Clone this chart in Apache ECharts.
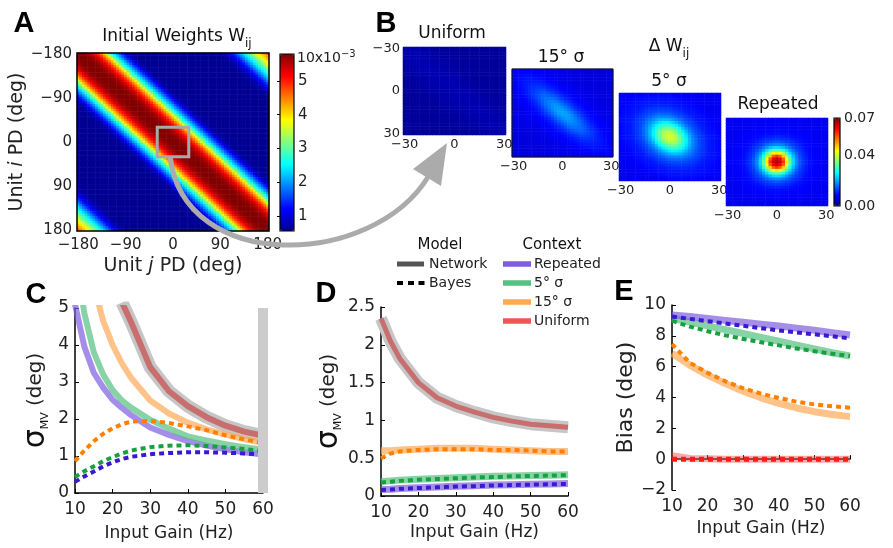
<!DOCTYPE html>
<html><head><meta charset="utf-8">
<script src="https://cdn.jsdelivr.net/npm/echarts@6/dist/echarts.min.js"></script>
<style>html,body{margin:0;padding:0;background:#fff}#c{width:893px;height:548px}</style>
</head><body><div id="c"></div>
<script>
// ================= DATA =================
// Panel A: initial weights (x10^-3) as a function of |PD_i - PD_j| (deg), read from the colours
const pdTicksA = [-180, -90, 0, 90, 180];
const pdStepA = 5;
const weightOffsets = [0, 10, 20, 30, 40, 50, 60, 70, 80, 90, 100, 120, 180, 240, 265, 280, 295, 310, 325, 340, 360];
const weightValues  = [5.8, 5.78, 5.65, 5.35, 4.85, 4.15, 3.1, 2.3, 1.65, 1.05, 0.65, 0.57, 0.56, 0.56, 0.58, 0.75, 1.3, 2.1, 2.9, 3.7, 4.6];
const colorbarTicksA = [1, 2, 3, 4, 5];
const colorbarRangeA = [0.55, 5.8];
const zoomBoxA = [-30, 30];

// Panel B: delta W_ij, radial profiles (value vs scaled distance from centre, deg)
const dwTicksB = [-30, 0, 30];
const dwStepB = 2;
const dwRadii     = [0, 2, 4, 6, 8, 10, 12, 15, 20, 30, 50];
const dwUniform   = [0.0026, 0.0026, 0.0025, 0.0023, 0.0020, 0.0017, 0.0014, 0.0012, 0.0010, 0.0009, 0.0009];
const dw15        = [0.020, 0.0195, 0.018, 0.016, 0.014, 0.012, 0.0105, 0.0090, 0.0076, 0.0064, 0.0058];
const dw5         = [0.041, 0.040, 0.037, 0.032, 0.027, 0.022, 0.018, 0.014, 0.0105, 0.008, 0.0072];
const dwRepeated  = [0.067, 0.065, 0.058, 0.045, 0.033, 0.024, 0.018, 0.013, 0.0095, 0.0078, 0.0072];
// stretch along / across the diagonal
const dwShapeUniform = [0, 1], dwShape15 = [0.4, 1.25], dwShape5 = [0.75, 1.0], dwShapeRepeated = [1, 1];
const colorbarTicksB = [0, 0.04, 0.07];

// Panel C
const gainC = [10, 12.5, 15, 17.5, 20, 22.5, 25, 30, 35, 40, 45, 50, 55, 60];
const netRepeatedC = [5.1, 3.95, 3.25, 2.85, 2.52, 2.3, 2.1, 1.77, 1.57, 1.4, 1.28, 1.18, 1.1, 1.04];
const net5C        = [6.5, 4.85, 3.8, 3.2, 2.78, 2.5, 2.3, 1.98, 1.74, 1.53, 1.42, 1.32, 1.24, 1.17];
const net15C       = [null, null, 5.6, 4.65, 4.0, 3.5, 3.1, 2.5, 2.15, 1.9, 1.72, 1.58, 1.46, 1.35];
const netUniformC  = [null, null, null, null, null, 5.15, 4.6, 3.4, 2.75, 2.35, 2.05, 1.82, 1.66, 1.55];
const bayesRepeatedC = [0.3, 0.45, 0.58, 0.72, 0.83, 0.92, 0.98, 1.05, 1.08, 1.1, 1.1, 1.09, 1.07, 1.04];
const bayes5C        = [0.43, 0.59, 0.72, 0.86, 0.97, 1.07, 1.15, 1.24, 1.28, 1.29, 1.27, 1.23, 1.19, 1.13];
const bayes15C       = [0.86, 1.15, 1.4, 1.6, 1.75, 1.86, 1.93, 1.95, 1.89, 1.8, 1.7, 1.56, 1.45, 1.35];
const highlightGainC = 60;

// Panel D
const gainD = [10, 12.5, 15, 20, 25, 30, 35, 40, 45, 50, 55, 60];
const netUniformD  = [2.35, 2.05, 1.82, 1.5, 1.3, 1.19, 1.11, 1.04, 0.99, 0.95, 0.93, 0.91];
const net15D       = [0.6, 0.6, 0.61, 0.62, 0.63, 0.63, 0.63, 0.62, 0.61, 0.6, 0.59, 0.59];
const net5D        = [0.19, 0.2, 0.21, 0.22, 0.23, 0.24, 0.25, 0.26, 0.265, 0.27, 0.275, 0.28];
const netRepeatedD = [0.085, 0.09, 0.1, 0.11, 0.12, 0.13, 0.135, 0.145, 0.15, 0.155, 0.16, 0.165];
const bayes15D       = [0.5, 0.56, 0.59, 0.61, 0.62, 0.62, 0.62, 0.61, 0.61, 0.6, 0.59, 0.59];
const bayes5D        = [0.18, 0.19, 0.2, 0.215, 0.225, 0.235, 0.245, 0.25, 0.26, 0.265, 0.27, 0.275];
const bayesRepeatedD = [0.08, 0.085, 0.095, 0.105, 0.115, 0.125, 0.13, 0.14, 0.145, 0.15, 0.155, 0.16];

// Panel E
const gainE = [10, 15, 20, 25, 30, 35, 40, 45, 50, 55, 60];
const netRepeatedE   = [9.35, 9.25, 9.13, 9.0, 8.88, 8.76, 8.64, 8.5, 8.36, 8.2, 8.05];
const bayesRepeatedE = [9.25, 9.1, 8.95, 8.8, 8.65, 8.5, 8.35, 8.22, 8.1, 7.97, 7.84];
const net5E          = [9.14, 8.9, 8.65, 8.4, 8.15, 7.9, 7.65, 7.4, 7.15, 6.9, 6.69];
const bayes5E        = [8.98, 8.6, 8.3, 8.03, 7.8, 7.58, 7.38, 7.18, 7.0, 6.84, 6.69];
const net15E         = [6.86, 6.1, 5.45, 4.9, 4.4, 3.98, 3.62, 3.32, 3.08, 2.9, 2.76];
const bayes15E       = [7.47, 6.25, 5.6, 5.05, 4.6, 4.25, 3.97, 3.73, 3.55, 3.43, 3.34];
const netUniformE    = [0.22, 0.05, 0.02, 0, 0, 0, 0, 0, 0, 0, 0];
const bayesUniformE  = [0, 0, 0, 0, 0, 0, 0, 0, 0, 0, 0];

const legendModel = ['Network', 'Bayes'];
const legendContext = ['Repeated', '5° σ', '15° σ', 'Uniform'];

// ================= HELPERS =================
const FF = 'DejaVu Sans, Verdana, sans-serif';
const jet = ['#00008f', '#0000ff', '#0080ff', '#00ffff', '#80ff80', '#ffff00', '#ff8000', '#ff0000', '#800000'];
const COL = {
  rep: '#7d5ee0', s5: '#55c080', s15: '#ffa855', uni: '#f25555',
  repD: '#3a1ad0', s5D: '#16a040', s15D: '#ff8000', uniD: '#ff1a1a'
};
const minus = v => String(v).replace('-', '\u2212');

function lookup(xs, ys, x) {
  if (x <= xs[0]) return ys[0];
  for (let k = 1; k < xs.length; k++) {
    if (x <= xs[k]) {
      const t = (x - xs[k - 1]) / (xs[k] - xs[k - 1]);
      return ys[k - 1] + t * (ys[k] - ys[k - 1]);
    }
  }
  return ys[ys.length - 1];
}
function range(a, b, step) { const r = []; for (let v = a; v <= b + 1e-9; v += step) r.push(v); return r; }

const pdA = range(pdTicksA[0], pdTicksA[pdTicksA.length - 1], pdStepA);
const cellsA = [];
pdA.forEach((pj, xj) => pdA.forEach((pi, yi) => {
  cellsA.push([xj, yi, lookup(weightOffsets, weightValues, Math.abs(pi - pj))]);
}));

const pdB = range(dwTicksB[0], dwTicksB[dwTicksB.length - 1], dwStepB);
function cellsB(profile, shape) {
  const out = [];
  pdB.forEach((x, xi) => pdB.forEach((y, yi) => {
    const along = (x + y) / Math.SQRT2, across = (x - y) / Math.SQRT2;
    const r = Math.hypot(along * shape[0], across * shape[1]);
    out.push([xi, yi, lookup(dwRadii, profile, r)]);
  }));
  return out;
}

const GRIDS = [
  {left: 77, top: 53, width: 192, height: 178, show: true, borderColor: '#000', borderWidth: 1.5, z: 10, backgroundColor: 'transparent'},
  {left: 403, top: 47, width: 103, height: 88},
  {left: 512, top: 69, width: 101, height: 88, show: true, borderColor: '#111', borderWidth: 1, z: 10, backgroundColor: 'transparent'},
  {left: 619, top: 93, width: 102, height: 88},
  {left: 726, top: 118, width: 102, height: 88},
  {left: 75, top: 308, width: 188, height: 185},
  {left: 381, top: 307, width: 187, height: 189},
  {left: 672, top: 305, width: 178, height: 185},
  {left: 280, top: 54, width: 14, height: 177, show: true, borderColor: '#000', borderWidth: 1.2, z: 10, backgroundColor: 'transparent'},
  {left: 834, top: 118, width: 6, height: 88, show: true, borderColor: '#000', borderWidth: 1.2, z: 10, backgroundColor: 'transparent'}
];

function catAxis(gi, data, ticks, showLabel, fontSize, inverse, extra) {
  return Object.assign({
    type: 'category', gridIndex: gi, data: data.map(String), inverse: !!inverse,
    axisLine: {show: false},
    axisTick: {show: false},
    splitLine: {show: false},
    axisLabel: {
      show: showLabel, interval: (i, v) => ticks.includes(+v), fontSize, color: '#222', fontFamily: FF,
      formatter: minus
    }
  }, extra || {});
}
function valAxis(gi, min, max, interval, extra) {
  return Object.assign({
    type: 'value', gridIndex: gi, min, max, interval,
    axisLine: {show: true, lineStyle: {color: '#000', width: 1.5}},
    axisTick: {show: true, inside: true, length: 4, lineStyle: {color: '#000'}},
    splitLine: {show: false},
    axisLabel: {fontSize: 17, color: '#222', fontFamily: FF, formatter: minus}
  }, extra || {});
}
const gainName = {name: 'Input Gain (Hz)', nameLocation: 'middle', nameTextStyle: {fontSize: 17, color: '#222', fontFamily: FF}};
const sigmaRich = {
  s: {fontSize: 30, fontFamily: FF, color: '#111'},
  m: {fontSize: 11, fontFamily: FF, color: '#111', verticalAlign: 'bottom', lineHeight: 30},
  d: {fontSize: 20, fontFamily: FF, color: '#222'}
};
const unitRich = {
  n: {fontSize: 19, fontFamily: FF, color: '#222'},
  i: {fontSize: 19, fontFamily: FF, color: '#222', fontStyle: 'italic'}
};
const bLabel = {fontSize: 13, color: '#222', fontFamily: FF, formatter: minus, margin: 3};

const xAxes = [
  catAxis(0, pdA, pdTicksA, true, 15, false, {
    axisTick: {show: true, inside: true, length: 4, alignWithLabel: true, interval: (i, v) => pdTicksA.includes(+v), lineStyle: {color: '#000'}},
    axisLabel: {interval: (i, v) => pdTicksA.includes(+v), fontSize: 15, color: '#222', fontFamily: FF, formatter: minus, margin: 7},
    name: '{n|Unit }{i|j}{n| PD (deg)}', nameLocation: 'middle', nameGap: 26, nameTextStyle: {rich: unitRich}
  }),
  catAxis(1, pdB, dwTicksB, true, 13, false, {axisLabel: Object.assign({interval: (i, v) => dwTicksB.includes(+v)}, bLabel)}),
  catAxis(2, pdB, dwTicksB, true, 13, false, {axisLabel: Object.assign({interval: (i, v) => dwTicksB.includes(+v)}, bLabel)}),
  catAxis(3, pdB, dwTicksB, true, 13, false, {axisLabel: Object.assign({interval: (i, v) => dwTicksB.includes(+v)}, bLabel)}),
  catAxis(4, pdB, dwTicksB, true, 13, false, {axisLabel: Object.assign({interval: (i, v) => dwTicksB.includes(+v)}, bLabel)}),
  valAxis(5, 10, 60, 10, Object.assign({nameGap: 32}, gainName, {axisLabel: {fontSize: 17, color: '#222', fontFamily: FF, margin: 8}})),
  valAxis(6, 10, 60, 10, Object.assign({nameGap: 28}, gainName, {axisLabel: {fontSize: 17, color: '#222', fontFamily: FF, margin: 8}})),
  valAxis(7, 10, 60, 10, Object.assign({nameGap: 30}, gainName, {axisLabel: {fontSize: 17, color: '#222', fontFamily: FF, margin: 8}})),
  {type: 'value', gridIndex: 8, show: false, min: 0, max: 1},
  {type: 'value', gridIndex: 9, show: false, min: 0, max: 1}
];
const yAxes = [
  catAxis(0, pdA, pdTicksA, true, 15, true, {
    axisTick: {show: true, inside: true, length: 4, alignWithLabel: true, interval: (i, v) => pdTicksA.includes(+v), lineStyle: {color: '#000'}},
    axisLabel: {interval: (i, v) => pdTicksA.includes(+v), fontSize: 15, color: '#222', fontFamily: FF, formatter: minus, margin: 5},
    name: '{n|Unit }{i|i}{n| PD (deg)}', nameLocation: 'middle', nameGap: 42, nameRotate: 90, nameTextStyle: {rich: unitRich}
  }),
  catAxis(1, pdB, dwTicksB, true, 13, true, {axisLabel: Object.assign({interval: (i, v) => dwTicksB.includes(+v)}, bLabel)}),
  catAxis(2, pdB, dwTicksB, false, 13, true),
  catAxis(3, pdB, dwTicksB, false, 13, true),
  catAxis(4, pdB, dwTicksB, false, 13, true),
  valAxis(5, 0, 5, 1, {name: '{s|σ}{m|MV}{d| (deg)}', nameLocation: 'middle', nameGap: 24, nameRotate: 90, nameTextStyle: {rich: sigmaRich}, axisLabel: {fontSize: 17, color: '#222', fontFamily: FF, margin: 6}}),
  valAxis(6, 0, 2.5, 0.5, {name: '{s|σ}{m|MV}{d| (deg)}', nameLocation: 'middle', nameGap: 36, nameRotate: 90, nameTextStyle: {rich: sigmaRich}, axisLabel: {fontSize: 17, color: '#222', fontFamily: FF, margin: 6}}),
  valAxis(7, -2, 10, 2, {name: 'Bias (deg)', nameLocation: 'middle', nameGap: 30, nameRotate: 90, nameTextStyle: {fontSize: 22, color: '#222', fontFamily: FF}, axisLabel: {fontSize: 17, color: '#222', fontFamily: FF, margin: 6, formatter: minus}}),
  {type: 'value', gridIndex: 8, position: 'right', min: colorbarRangeA[0], max: colorbarRangeA[1],
    axisLine: {show: false}, splitLine: {show: false},
    axisTick: {show: true, inside: true, length: 3, customValues: colorbarTicksA, lineStyle: {color: '#000'}},
    axisLabel: {customValues: colorbarTicksA, fontSize: 15, color: '#222', fontFamily: FF, margin: 4}},
  {type: 'value', gridIndex: 9, position: 'right', min: colorbarTicksB[0], max: colorbarTicksB[2],
    axisLine: {show: false}, splitLine: {show: false},
    axisTick: {show: false, customValues: colorbarTicksB},
    axisLabel: {customValues: colorbarTicksB, fontSize: 14, color: '#222', fontFamily: FF, margin: 4, formatter: v => v.toFixed(2)}}
];

function line(name, ai, xs, ys, color, width, dashed, opacity, z, extra) {
  return Object.assign({
    type: 'line', name, xAxisIndex: ai, yAxisIndex: ai,
    data: xs.map((x, k) => [x, ys[k]]),
    symbol: 'none', silent: true, z: z || 2,
    lineStyle: {color, width, type: dashed ? [5, 4] : 'solid', opacity: opacity == null ? 1 : opacity, cap: 'butt', join: 'round'},
    itemStyle: {color}
  }, extra || {});
}
const NET_OP = 0.7;

const series = [
  {type: 'heatmap', xAxisIndex: 0, yAxisIndex: 0, data: cellsA, progressive: 0, silent: true},
  {type: 'heatmap', xAxisIndex: 1, yAxisIndex: 1, data: cellsB(dwUniform, dwShapeUniform), progressive: 0, silent: true},
  {type: 'heatmap', xAxisIndex: 2, yAxisIndex: 2, data: cellsB(dw15, dwShape15), progressive: 0, silent: true},
  {type: 'heatmap', xAxisIndex: 3, yAxisIndex: 3, data: cellsB(dw5, dwShape5), progressive: 0, silent: true},
  {type: 'heatmap', xAxisIndex: 4, yAxisIndex: 4, data: cellsB(dwRepeated, dwShapeRepeated), progressive: 0, silent: true},

  // C
  line('Network', 5, gainC, netUniformC, '#c6c6c6', 13, false, 1, 1, {
    markLine: {silent: true, symbol: ['none', 'none'], label: {show: false},
      lineStyle: {color: '#cccccc', width: 10, type: 'solid', opacity: 1}, data: [{xAxis: highlightGainC}]}}),
  line('Repeated', 5, gainC, netRepeatedC, COL.rep, 6, false, NET_OP, 2),
  line('5° σ', 5, gainC, net5C, COL.s5, 6, false, NET_OP, 2),
  line('15° σ', 5, gainC, net15C, COL.s15, 6, false, NET_OP, 2),
  line('Uniform', 5, gainC, netUniformC, '#c86464', 6, false, 0.9, 3),
  line('Bayes', 5, gainC, bayes15C, COL.s15D, 4, true, 1, 4),
  line('Bayes', 5, gainC, bayes5C, COL.s5D, 4, true, 1, 4),
  line('Bayes', 5, gainC, bayesRepeatedC, COL.repD, 4, true, 1, 4),

  // D
  line('Network', 6, gainD, netUniformD, '#c6c6c6', 12, false, 1, 1),
  line('Uniform', 6, gainD, netUniformD, '#c86464', 5, false, 0.9, 3),
  line('15° σ', 6, gainD, net15D, COL.s15, 7, false, NET_OP, 2),
  line('5° σ', 6, gainD, net5D, COL.s5, 7, false, NET_OP, 2),
  line('Repeated', 6, gainD, netRepeatedD, COL.rep, 7, false, NET_OP, 2),
  line('Bayes', 6, gainD, bayes15D, COL.s15D, 4, true, 1, 4),
  line('Bayes', 6, gainD, bayes5D, COL.s5D, 4, true, 1, 4),
  line('Bayes', 6, gainD, bayesRepeatedD, COL.repD, 4, true, 1, 4),

  // E
  line('Uniform', 7, gainE, netUniformE, COL.uni, 7, false, 0.5, 2),
  line('15° σ', 7, gainE, net15E, COL.s15, 7, false, NET_OP, 2),
  line('5° σ', 7, gainE, net5E, COL.s5, 7, false, NET_OP, 2),
  line('Repeated', 7, gainE, netRepeatedE, COL.rep, 7, false, NET_OP, 2),
  line('Bayes', 7, gainE, bayesUniformE, COL.uniD, 5, true, 1, 4),
  line('Bayes', 7, gainE, bayes15E, COL.s15D, 4, true, 1, 4),
  line('Bayes', 7, gainE, bayes5E, COL.s5D, 4, true, 1, 4),
  line('Bayes', 7, gainE, bayesRepeatedE, COL.repD, 4, true, 1, 4)
];

// ---------- graphic: texts, legend, arrow ----------
function txt(text, x, y, size, opts) {
  opts = opts || {};
  return {
    type: 'text', x, y, z: 120, silent: true,
    style: Object.assign({
      text, fontSize: size, fontFamily: opts.family || FF, fontWeight: opts.weight || 'normal',
      fill: opts.fill || '#111',
      align: opts.align || 'center', textAlign: opts.align || 'center',
      verticalAlign: 'middle', textVerticalAlign: 'middle'
    }, opts.rich ? {rich: opts.rich} : {})
  };
}
const subRich = {
  a: {fontSize: 17, fontFamily: FF, fill: '#111', color: '#111', lineHeight: 26},
  b: {fontSize: 12, fontFamily: FF, fill: '#111', color: '#111', verticalAlign: 'bottom', lineHeight: 26}
};
const LET = {family: 'Liberation Sans, Arial, sans-serif', weight: 'bold', fill: '#000'};
const graphics = [
  txt('A', 24, 24, 29, LET), txt('B', 386, 24, 29, LET), txt('C', 36, 295, 29, LET),
  txt('D', 326, 294, 29, LET), txt('E', 624, 292, 29, LET),
  txt('{a|Initial Weights W}{b|ij}', 177, 37, 17, {rich: subRich}),
  txt('Uniform', 452, 34, 17), txt('15° σ', 561, 58, 17), txt('5° σ', 669, 82, 17), txt('Repeated', 778, 105, 17),
  txt('{a|Δ W}{b|ij}', 669, 47, 17, {rich: subRich}),
  txt('{a|10x10}{c|−3}', 297, 58, 14, {align: 'left', rich: {
    a: {fontSize: 14, fontFamily: FF, fill: '#222', lineHeight: 18},
    c: {fontSize: 10, fontFamily: FF, fill: '#222', verticalAlign: 'top', lineHeight: 18}}}),
  // legend
  txt('Model', 440, 245, 15), txt('Context', 552, 245, 15),
  {type: 'rect', z: 110, shape: {x: 397, y: 261.5, width: 27, height: 5}, style: {fill: '#555'}},
  {type: 'rect', z: 110, shape: {x: 397, y: 281, width: 6, height: 4}, style: {fill: '#000'}},
  {type: 'rect', z: 110, shape: {x: 408, y: 281, width: 6, height: 4}, style: {fill: '#000'}},
  {type: 'rect', z: 110, shape: {x: 418.5, y: 281, width: 6, height: 4}, style: {fill: '#000'}},
  txt(legendModel[0], 429, 264, 14, {align: 'left', fill: '#222'}),
  txt(legendModel[1], 429, 283, 14, {align: 'left', fill: '#222'})
];
const ctxColors = [COL.rep, COL.s5, COL.s15, COL.uni];
legendContext.forEach((name, k) => {
  const cy = 264 + k * 19;
  graphics.push({type: 'rect', z: 110, shape: {x: 503, y: cy - 2.75, width: 28, height: 5.5}, style: {fill: ctxColors[k]}});
  graphics.push(txt(name, 534, cy, 14, {align: 'left', fill: '#222'}));
});

const option = {
  animation: false,
  backgroundColor: '#fff',
  grid: GRIDS,
  xAxis: xAxes,
  yAxis: yAxes,
  visualMap: [
    {type: 'continuous', seriesIndex: 0, min: colorbarRangeA[0], max: colorbarRangeA[1], show: true, calculable: false,
      orient: 'vertical', left: 280, top: 54, itemWidth: 14, itemHeight: 177, padding: 0, text: null, hoverLink: false,
      inRange: {color: jet}},
    {type: 'continuous', seriesIndex: [1, 2, 3, 4], min: colorbarTicksB[0], max: colorbarTicksB[2], show: true, calculable: false,
      orient: 'vertical', left: 834, top: 118, itemWidth: 6, itemHeight: 88, padding: 0, text: null, hoverLink: false,
      inRange: {color: jet}}
  ],
  series,
  graphic: graphics
};
const chart = echarts.init(document.getElementById('c'), null, {renderer: 'canvas'});
chart.setOption(option);

// zoom box on panel A (from the axis scale) and the arrow leading to panel B
const iLo = pdA.indexOf(zoomBoxA[0]), iHi = pdA.indexOf(zoomBoxA[1]);
const pLo = chart.convertToPixel({xAxisIndex: 0, yAxisIndex: 0}, [iLo, iLo]);
const pHi = chart.convertToPixel({xAxisIndex: 0, yAxisIndex: 0}, [iHi, iHi]);
const bx = Math.min(pLo[0], pHi[0]), by = Math.min(pLo[1], pHi[1]);
const bw = Math.abs(pHi[0] - pLo[0]), bh = Math.abs(pHi[1] - pLo[1]);
const sx = bx + bw / 2 - 3, sy = by + bh;
graphics.push(
  {type: 'rect', z: 105, silent: true, shape: {x: bx, y: by, width: bw, height: bh},
    style: {fill: null, stroke: '#a8a8a8', lineWidth: 3}},
  {type: 'bezierCurve', z: 110, silent: true,
    shape: {x1: sx, y1: sy, x2: 428, y2: 177, cpx1: sx + 14, cpy1: 274, cpx2: 372, cpy2: 268},
    style: {stroke: '#ababab', lineWidth: 5, fill: null}},
  {type: 'polygon', z: 110, silent: true, shape: {points: [[447, 143], [413, 169], [441, 186]]}, style: {fill: '#ababab'}}
);
chart.setOption({graphic: graphics});
</script></body></html>
